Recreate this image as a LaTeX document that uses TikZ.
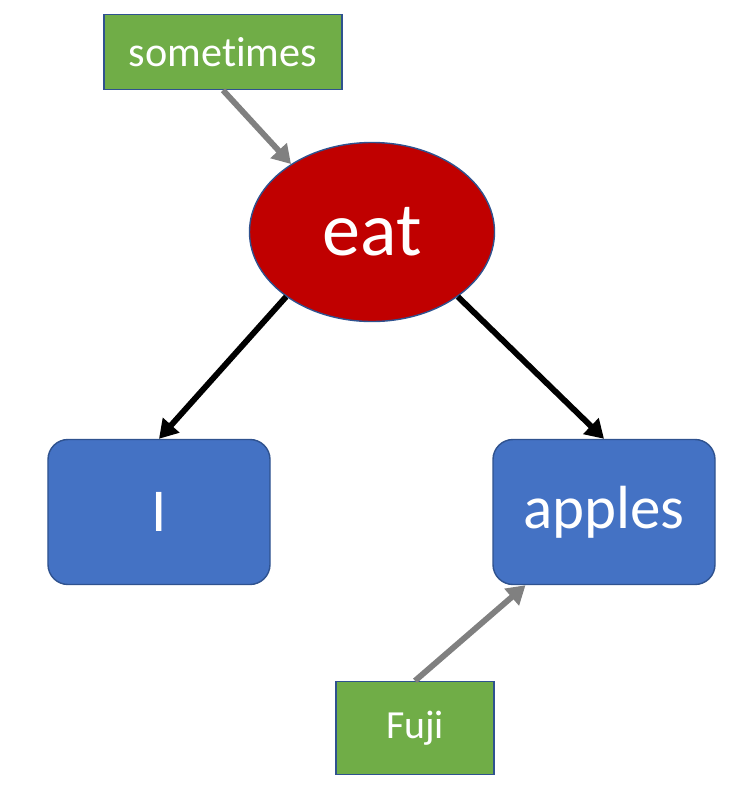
\documentclass[tikz,border=0pt]{standalone}
\usepackage{fontspec}
\setmainfont{Carlito}[Ligatures={NoCommon}]
\usetikzlibrary{shapes.geometric,arrows.meta}

\definecolor{wordred}{HTML}{C00000}
\definecolor{wordblue}{HTML}{4472C4}
\definecolor{wordgreen}{HTML}{70AD47}
\definecolor{rim}{HTML}{2F528F}
\definecolor{linkgray}{HTML}{808080}

\begin{document}
\begin{tikzpicture}[x=0.03cm,y=-0.03cm]

        \useasboundingbox (0,0) rectangle (734,785);

        \begin{scope}[every node/.style={draw=rim, line width=1.2pt, text=white, inner sep=0pt}]
          \node[ellipse, fill=wordred, minimum width=7.35cm, minimum height=5.37cm,
                font=\fontsize{65}{78}\selectfont] (eat) at (372,232) {eat};
          \node[rounded corners=0.6cm, fill=wordblue, minimum width=6.66cm, minimum height=4.35cm,
                font=\fontsize{52}{62}\selectfont] (I) at (159,512) {I};
          \node[rounded corners=0.6cm, fill=wordblue, minimum width=6.66cm, minimum height=4.35cm,
                font=\fontsize{52}{62}\selectfont] (apples) at (604,512) {apples};
          \node[fill=wordgreen, minimum width=7.14cm, minimum height=2.25cm,
                font=\fontsize{36}{43}\selectfont] (sometimes) at (223,52) {sometimes};
          \node[fill=wordgreen, minimum width=4.74cm, minimum height=2.79cm,
                font=\fontsize{34}{41}\selectfont] (fuji) at (415,728) {Fuji};
        \end{scope}

        \begin{scope}[every edge/.style={draw, line width=5pt,
                      -{Triangle[length=0.55cm,width=0.64cm]}}]
          \path (eat.217) edge (I.north);
          \path (eat.323) edge (apples.north);
          \path[linkgray] (sometimes.south) edge (eat.140);
          \path[linkgray] (fuji.north) edge (apples.223.5);
        \end{scope}

      \end{tikzpicture}
\end{document}
